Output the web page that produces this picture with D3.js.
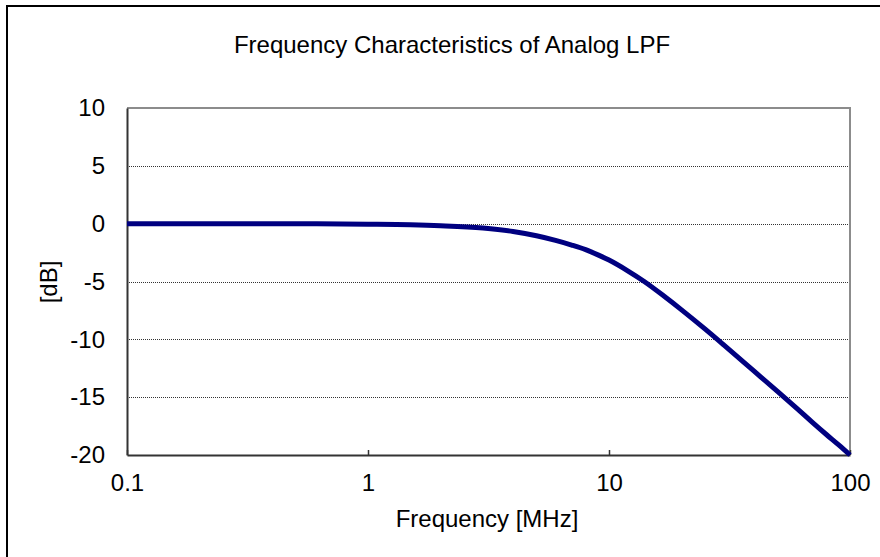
<!DOCTYPE html>
<html>
<head>
<meta charset="utf-8">
<script src="https://cdn.jsdelivr.net/npm/d3@7"></script>
<style>
  html, body { margin: 0; padding: 0; background: #fff; }
  svg { display: block; font-family: "Liberation Sans", Arial, sans-serif; }
</style>
</head>
<body>
<div id="chart"></div>
<script>
// Frequency response of the analog LPF.
const freqMHz = [0.1, 0.2, 0.5, 1, 1.5, 2, 3, 4, 5, 6, 7, 8, 9, 10, 12, 14, 17, 20, 25, 30, 40, 50, 60, 70, 80, 90, 100];
const gainDb  = [0, 0, -0.01, -0.05, -0.1, -0.18, -0.38, -0.68, -1.05, -1.45, -1.85, -2.25, -2.7, -3.15, -4.1, -5.0, -6.3, -7.45, -9.1, -10.5, -12.75, -14.5, -15.95, -17.2, -18.25, -19.15, -20.0];
const xTicks = [0.1, 1, 10, 100];
const yTicks = [10, 5, 0, -5, -10, -15, -20];

const width = 880, height = 557;
const plot = { left: 127, right: 850, top: 108, bottom: 455 };
const fontSize = 24;

const svg = d3.select('#chart')
    .append('svg')
    .attr('width', width)
    .attr('height', height);

// Outer chart border (right/bottom run past the picture).
svg.append('rect')
    .attr('x', 7).attr('y', 6)
    .attr('width', 900).attr('height', 600)
    .attr('fill', 'none')
    .attr('stroke', '#000')
    .attr('stroke-width', 2);

const x = d3.scaleLog()
    .domain([0.1, 100])
    .range([plot.left, plot.right]);

const y = d3.scaleLinear()
    .domain([-20, 10])
    .range([plot.bottom, plot.top]);

// Title.
svg.append('text')
    .attr('x', 452).attr('y', 53)
    .attr('text-anchor', 'middle')
    .attr('font-size', fontSize)
    .text('Frequency Characteristics of Analog LPF');

// Dotted gridlines.
svg.append('g')
    .selectAll('line')
    .data(yTicks.filter(d => d > -20 && d < 10))
    .enter()
    .append('line')
    .attr('x1', plot.left).attr('x2', plot.right)
    .attr('y1', d => Math.round(y(d)) + 0.5)
    .attr('y2', d => Math.round(y(d)) + 0.5)
    .attr('stroke', '#333')
    .attr('stroke-width', 1)
    .attr('stroke-dasharray', '1,1');

// Plot area border: top and right grey.
svg.append('path')
    .attr('d', `M${plot.left},${plot.top}H${plot.right}V${plot.bottom}`)
    .attr('fill', 'none')
    .attr('stroke', '#8c8c8c')
    .attr('stroke-width', 2);

// Y axis.
const yAxis = svg.append('g')
    .attr('transform', `translate(${plot.left},0)`)
    .call(d3.axisLeft(y).tickValues(yTicks).tickFormat(d => String(d))
        .tickSize(0).tickPadding(22));
yAxis.select('.domain').attr('stroke', '#333').attr('stroke-width', 2);
yAxis.selectAll('text')
    .attr('font-size', fontSize)
    .attr('font-family', '"Liberation Sans", Arial, sans-serif')
    .attr('fill', '#000');

// X axis with short inside ticks.
const xAxis = svg.append('g')
    .attr('transform', `translate(0,${plot.bottom})`)
    .call(d3.axisBottom(x).tickValues(xTicks).tickFormat(d => String(d))
        .tickSizeInner(-5).tickSizeOuter(0).tickPadding(19));
xAxis.select('.domain').attr('stroke', '#333').attr('stroke-width', 2);
xAxis.selectAll('.tick line').attr('stroke', '#333').attr('stroke-width', 1.5);
xAxis.selectAll('text')
    .attr('font-size', fontSize)
    .attr('font-family', '"Liberation Sans", Arial, sans-serif')
    .attr('fill', '#000');

// Axis titles.
svg.append('text')
    .attr('x', 487).attr('y', 527)
    .attr('text-anchor', 'middle')
    .attr('font-size', fontSize)
    .text('Frequency [MHz]');

svg.append('text')
    .attr('transform', `translate(57,282) rotate(-90)`)
    .attr('text-anchor', 'middle')
    .attr('font-size', fontSize)
    .text('[dB]');

// Response curve.
const line = d3.line()
    .x((d, i) => x(freqMHz[i]))
    .y(d => y(d))
    .curve(d3.curveMonotoneX);

svg.append('path')
    .datum(gainDb)
    .attr('d', line)
    .attr('fill', 'none')
    .attr('stroke', '#000080')
    .attr('stroke-width', 5);
</script>
</body>
</html>
